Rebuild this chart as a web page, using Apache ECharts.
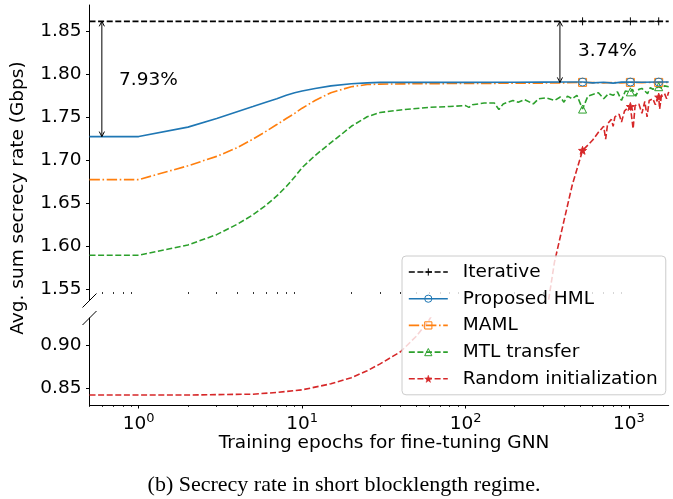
<!DOCTYPE html>
<html>
<head>
<meta charset="utf-8">
<script src="https://cdn.jsdelivr.net/npm/echarts@6/dist/echarts.min.js"></script>
<style>
html,body{margin:0;padding:0;background:#fff;}
#chart{width:673px;height:499px;}
</style>
</head>
<body>
<div id="chart"></div>
<script>
// ---- data ----
const markerEpochs = [520, 1020, 1520];

const iterEpochs = [0.5, 520, 1020, 1520, 1750];
const iterValues = [1.862, 1.862, 1.862, 1.862, 1.862];

const hmlEpochs = [0.5, 1, 2, 3, 4, 5, 6, 7, 8, 9, 10, 12, 15, 20, 25, 30, 40, 60, 100, 200, 300, 400, 520, 600, 700, 800, 900, 1020, 1200, 1520, 1750];
const hmlValues = [1.728, 1.728, 1.739, 1.749, 1.757, 1.763, 1.768, 1.772, 1.776, 1.779, 1.781, 1.784, 1.787, 1.7895, 1.7905, 1.791, 1.791, 1.791, 1.791, 1.7912, 1.7913, 1.7914, 1.7914, 1.7905, 1.7912, 1.7902, 1.7913, 1.7914, 1.7912, 1.7914, 1.7915];

const mamlEpochs = [0.5, 1, 2, 3, 4, 5, 6, 7, 8, 9, 10, 12, 15, 20, 25, 30, 40, 60, 100, 200, 300, 400, 520, 600, 700, 800, 900, 1020, 1200, 1520, 1750];
const mamlValues = [1.678, 1.678, 1.694, 1.705, 1.715, 1.725, 1.734, 1.742, 1.749, 1.755, 1.761, 1.770, 1.779, 1.786, 1.7885, 1.789, 1.7893, 1.7895, 1.7898, 1.790, 1.7902, 1.7905, 1.791, 1.7908, 1.7905, 1.791, 1.7904, 1.791, 1.7908, 1.791, 1.791];

const mtlEpochs = [0.5, 1, 2, 3, 4, 5, 6, 7, 8, 9, 10, 12, 15, 17, 20, 25, 30, 40, 60, 80, 100, 105, 110, 130, 150, 160, 170, 195, 210, 230, 260, 280, 310, 350, 380, 400, 420, 450, 480, 520, 560, 600, 650, 700, 750, 800, 850, 900, 950, 1020, 1050, 1100, 1150, 1200, 1300, 1350, 1400, 1520, 1600, 1650, 1750];
const mtlValues = [1.590, 1.590, 1.602, 1.614, 1.626, 1.637, 1.648, 1.659, 1.670, 1.681, 1.692, 1.706, 1.721, 1.729, 1.740, 1.751, 1.756, 1.759, 1.762, 1.763, 1.764, 1.762, 1.765, 1.767, 1.767, 1.7595, 1.766, 1.770, 1.768, 1.771, 1.766, 1.772, 1.773, 1.770, 1.774, 1.768, 1.775, 1.772, 1.776, 1.760, 1.775, 1.777, 1.779, 1.772, 1.778, 1.776, 1.780, 1.770, 1.781, 1.780, 1.783, 1.775, 1.783, 1.784, 1.778, 1.785, 1.783, 1.786, 1.784, 1.787, 1.786];

const randEpochs = [0.5, 1, 2, 3, 5, 7, 10, 15, 20, 25, 30, 40, 50, 60, 80, 120, 200, 300, 350, 400, 450, 520, 560, 600, 650, 700, 720, 740, 780, 800, 820, 870, 900, 940, 980, 1020, 1060, 1090, 1150, 1200, 1250, 1290, 1330, 1400, 1450, 1520, 1540, 1580, 1650, 1700, 1750];
const randValues = [0.842, 0.842, 0.842, 0.8425, 0.843, 0.845, 0.848, 0.855, 0.862, 0.870, 0.878, 0.892, 0.910, 0.929, 0.97, 1.06, 1.26, 1.50, 1.582, 1.630, 1.672, 1.712, 1.718, 1.724, 1.733, 1.740, 1.725, 1.743, 1.748, 1.740, 1.751, 1.754, 1.745, 1.758, 1.761, 1.763, 1.737, 1.764, 1.766, 1.755, 1.769, 1.751, 1.770, 1.772, 1.765, 1.774, 1.760, 1.776, 1.778, 1.772, 1.780];

// gap annotations: epoch, upper value, lower value, label
const gapEpochs = [0.595, 378];
const gapUpper = [1.862, 1.862];
const gapLower = [1.728, 1.791];
const gapLabels = ['7.93%', '3.74%'];

// axis ticks
const upperTicks = [1.55, 1.60, 1.65, 1.70, 1.75, 1.80, 1.85];
const lowerTicks = [0.85, 0.90];
const majorX = [1, 10, 100, 1000];
const minorX = [0.5, 0.6, 0.7, 0.8, 0.9, 2, 3, 4, 5, 6, 7, 8, 9, 20, 30, 40, 50, 60, 70, 80, 90, 200, 300, 400, 500, 600, 700, 800, 900];

// ---- styling ----
const FONT = 'DejaVu Sans';
const FS = 18.5;
const C = {iter: '#000000', hml: '#1f77b4', maml: '#ff7f0e', mtl: '#2ca02c', rand: '#d62728'};
const DASH = [6, 2.6];
const DASHDOT = [10.4, 2.6, 1.6, 2.6];
const LW = 1.6;
const X_MIN = 0.5, X_MAX = 1750;

const plusPath = 'path://M5,0V10M0,5H10';
const starPath = 'path://M5,0L6.2,3.6L10,3.8L7,6.1L8.1,9.8L5,7.6L1.9,9.8L3,6.1L0,3.8L3.8,3.6Z';

function pts(epochs, values) {
  return epochs.map((e, i) => markerEpochs.indexOf(e) >= 0
    ? [e, values[i]]
    : {value: [e, values[i]], symbol: 'none'});
}

function lineSeries(name, epochs, values, color, type, symbol, fill, grid) {
  return {
    type: 'line', name: name,
    xAxisIndex: grid === 1 ? 1 : 0, yAxisIndex: grid === 1 ? 1 : 0,
    data: pts(epochs, values),
    symbol: symbol, symbolSize: 8,
    itemStyle: {color: fill, borderColor: color, borderWidth: 1},
    lineStyle: {color: color, width: LW, type: type},
    emphasis: {disabled: true},
    animation: false, z: 3
  };
}

const superscript = v => '{b|10}{e|' + Math.round(Math.log10(v)) + '}';

const chart = echarts.init(document.getElementById('chart'), null, {renderer: 'canvas'});

const gridTop = {left: 89.5, right: 4.3, top: 5, height: 295};
const gridBot = {left: 89.5, right: 4.3, top: 318, height: 87};

const xBase = {type: 'log', logBase: 10, min: X_MIN, max: X_MAX, splitLine: {show: false}};
const yLabel = {formatter: v => v.toFixed(2), fontFamily: FONT, fontSize: FS, color: '#000', margin: 8, padding: [3, 0, 0, 0]};

chart.setOption({
  animation: false,
  grid: [gridTop, gridBot, gridBot],
  xAxis: [
    Object.assign({}, xBase, {
      gridIndex: 0, position: 'bottom', offset: -8,
      axisLine: {show: false},
      axisTick: {show: true, customValues: minorX, length: 2, lineStyle: {color: '#000', width: 0.8}},
      axisLabel: {show: false}
    }),
    Object.assign({}, xBase, {
      gridIndex: 1, position: 'bottom',
      axisLine: {show: true, lineStyle: {color: '#000', width: 1}},
      axisTick: {show: true, customValues: majorX, length: 3.5, lineStyle: {color: '#000', width: 1}},
      axisLabel: {
        show: true, customValues: majorX, margin: 7, color: '#000',
        formatter: superscript,
        rich: {
          b: {fontFamily: FONT, fontSize: FS, color: '#000'},
          e: {fontFamily: FONT, fontSize: 13, color: '#000', padding: [0, 0, 11, 0]}
        }
      }
    }),
    Object.assign({}, xBase, {
      gridIndex: 2, position: 'bottom',
      axisLine: {show: false},
      axisTick: {show: true, customValues: minorX, length: 2, lineStyle: {color: '#000', width: 0.8}},
      axisLabel: {show: false}
    })
  ],
  yAxis: [
    {
      type: 'value', gridIndex: 0, min: 1.538, max: 1.881,
      splitLine: {show: false},
      axisLine: {show: true, lineStyle: {color: '#000', width: 1}},
      axisTick: {show: true, customValues: upperTicks, length: 3.5, lineStyle: {color: '#000'}},
      axisLabel: Object.assign({customValues: upperTicks}, yLabel)
    },
    {
      type: 'value', gridIndex: 1, min: 0.8305, max: 0.931,
      splitLine: {show: false},
      axisLine: {show: true, lineStyle: {color: '#000', width: 1}},
      axisTick: {show: true, customValues: lowerTicks, length: 3.5, lineStyle: {color: '#000'}},
      axisLabel: Object.assign({customValues: lowerTicks}, yLabel)
    },
    {type: 'value', gridIndex: 2, min: 0.8305, max: 0.931, show: false}
  ],
  legend: {
    orient: 'vertical', left: 402, top: 256,
    padding: [6, 8, 6, 6], itemGap: 6.7, itemWidth: 39, itemHeight: 9,
    backgroundColor: 'rgba(255,255,255,0.8)', borderColor: '#cccccc', borderWidth: 1, borderRadius: 4,
    textStyle: {fontFamily: FONT, fontSize: FS, color: '#000', lineHeight: 20, padding: [0, 0, 0, 10]},
    selectedMode: false,
    data: [
      {name: 'Iterative', itemStyle: {color: 'rgba(0,0,0,0)', borderColor: C.iter, borderWidth: 1}, lineStyle: {color: C.iter, width: LW, type: DASH}},
      {name: 'Proposed HML', itemStyle: {color: 'rgba(0,0,0,0)', borderColor: C.hml, borderWidth: 1}, lineStyle: {color: C.hml, width: LW, type: 'solid'}},
      {name: 'MAML', itemStyle: {color: 'rgba(0,0,0,0)', borderColor: C.maml, borderWidth: 1}, lineStyle: {color: C.maml, width: LW, type: DASHDOT}},
      {name: 'MTL transfer', itemStyle: {color: 'rgba(0,0,0,0)', borderColor: C.mtl, borderWidth: 1}, lineStyle: {color: C.mtl, width: LW, type: DASH}},
      {name: 'Random initialization', itemStyle: {color: C.rand, borderColor: C.rand, borderWidth: 0.5}, lineStyle: {color: C.rand, width: LW, type: DASH}}
    ]
  },
  series: [
    lineSeries('Random initialization', randEpochs, randValues, C.rand, DASH, starPath, C.rand, 0),
    lineSeries('Random initialization', randEpochs, randValues, C.rand, DASH, starPath, C.rand, 1),
    lineSeries('MTL transfer', mtlEpochs, mtlValues, C.mtl, DASH, 'triangle', 'rgba(0,0,0,0)', 0),
    lineSeries('MAML', mamlEpochs, mamlValues, C.maml, DASHDOT, 'rect', 'rgba(0,0,0,0)', 0),
    lineSeries('Proposed HML', hmlEpochs, hmlValues, C.hml, 'solid', 'circle', 'rgba(0,0,0,0)', 0),
    lineSeries('Iterative', iterEpochs, iterValues, C.iter, DASH, plusPath, 'rgba(0,0,0,0)', 0),
    {
      type: 'custom', name: 'gap', xAxisIndex: 0, yAxisIndex: 0,
      data: gapEpochs.map((e, i) => [e, gapUpper[i], gapLower[i]]),
      encode: {x: 0, y: [1, 2]},
      clip: false, silent: true, z: 4,
      renderItem: function (params, api) {
        const p1 = api.coord([api.value(0), api.value(1)]);
        const p2 = api.coord([api.value(0), api.value(2)]);
        const h = 5, w = 2.6;
        const st = {stroke: '#000', lineWidth: 1, fill: null};
        return {
          type: 'group',
          children: [
            {type: 'line', shape: {x1: p1[0], y1: p1[1], x2: p2[0], y2: p2[1]}, style: st},
            {type: 'polyline', shape: {points: [[p1[0] - w, p1[1] + h], [p1[0], p1[1]], [p1[0] + w, p1[1] + h]]}, style: st},
            {type: 'polyline', shape: {points: [[p2[0] - w, p2[1] - h], [p2[0], p2[1]], [p2[0] + w, p2[1] - h]]}, style: st}
          ]
        };
      }
    }
  ],
  graphic: [
    // axis break marks
    {type: 'line', shape: {x1: 82.5, y1: 307.5, x2: 96.5, y2: 293.5}, style: {stroke: '#000', lineWidth: 1}},
    {type: 'line', shape: {x1: 82.5, y1: 325, x2: 96.5, y2: 311}, style: {stroke: '#000', lineWidth: 1}},
    // gap labels
    {type: 'text', left: 119, top: 71, style: {text: gapLabels[0], fontFamily: FONT, fontSize: FS, fill: '#000'}},
    {type: 'text', left: 578, top: 42, style: {text: gapLabels[1], fontFamily: FONT, fontSize: FS, fill: '#000'}},
    // axis titles
    {type: 'text', x: 18, y: 198, rotation: Math.PI / 2,
      style: {text: 'Avg. sum secrecy rate (Gbps)', fontFamily: FONT, fontSize: FS, fill: '#000', align: 'center', verticalAlign: 'middle'}},
    {type: 'text', x: 384, y: 443,
      style: {text: 'Training epochs for fine-tuning GNN', fontFamily: FONT, fontSize: FS, fill: '#000', align: 'center', verticalAlign: 'middle'}},
    // caption
    {type: 'text', x: 344, y: 485,
      style: {text: '(b) Secrecy rate in short blocklength regime.', fontFamily: 'Liberation Serif', fontSize: 22, fill: '#000', align: 'center', verticalAlign: 'middle'}}
  ]
});
</script>
</body>
</html>
